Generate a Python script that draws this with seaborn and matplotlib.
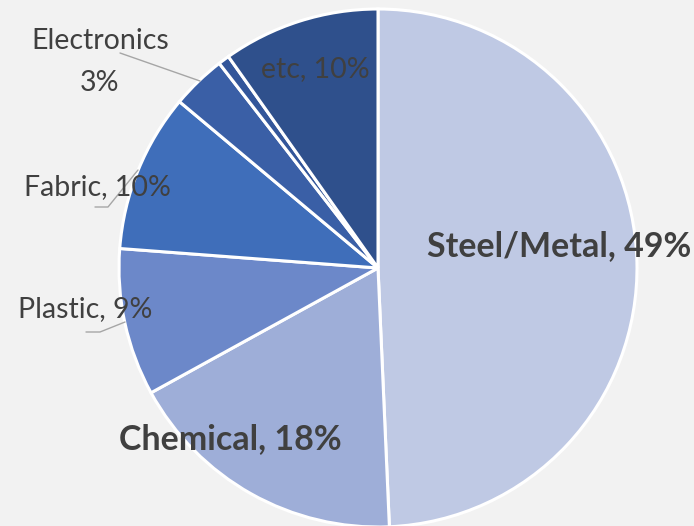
import matplotlib.pyplot as plt
import seaborn as sns

materials = ['Steel/Metal', 'Chemical', 'Plastic', 'Fabric', 'Electronics', 'Other', 'etc']
shares = [49.3, 17.7, 9.2, 9.9, 3.4, 0.7, 9.8]
pct_labels = ['49%', '18%', '9%', '10%', '3%', '', '10%']
colors = ['#BFC9E4', '#9EAED8', '#6C88C9', '#3F6EBA', '#3A5FA6', '#33569A', '#2F508C']

sns.set_theme(style='white', rc={'figure.facecolor': '#F2F2F2', 'axes.facecolor': '#F2F2F2'})
plt.rcParams['font.family'] = ['Lato', 'DejaVu Sans']

W, H = 694, 526
fig = plt.figure(figsize=(W / 100, H / 100), dpi=100)
ax = fig.add_axes([0, 0, 1, 1])

cx, cy, r = 378, H - 268, 259
ax.pie(shares, colors=colors, startangle=90, counterclock=False,
       center=(cx, cy), radius=r, frame=True,
       wedgeprops=dict(edgecolor='white', linewidth=2.2))
ax.set_xlim(0, W)
ax.set_ylim(0, H)
ax.axis('off')
ax.set_aspect('auto')

txt = '#404040'
line = '#A6A6A6'


def put(x, y, s, **kw):
    ax.text(x, H - y, s, ha='center', va='center', color=txt, **kw)


def leader(pts):
    ax.plot([p[0] for p in pts], [H - p[1] for p in pts], color=line, lw=1.0)


put(559, 246, f'{materials[0]}, {pct_labels[0]}', fontsize=24.5, fontweight='bold')
put(230, 439, f'{materials[1]}, {pct_labels[1]}', fontsize=24.5, fontweight='bold')
put(85, 309, f'{materials[2]}, {pct_labels[2]}', fontsize=20.5)
put(97, 187, f'{materials[3]}, {pct_labels[3]}', fontsize=20.5)
put(100, 62, f'{materials[4]}\n{pct_labels[4]}', fontsize=20.5, linespacing=1.75)
put(315, 69, f'{materials[6]}, {pct_labels[6]}', fontsize=20.5)

leader([(120, 53), (200, 81)])
leader([(95, 207), (108, 207), (138, 170)])
leader([(86, 332), (100, 332), (125, 322)])

fig.savefig('out.png', dpi=100, facecolor=fig.get_facecolor())
